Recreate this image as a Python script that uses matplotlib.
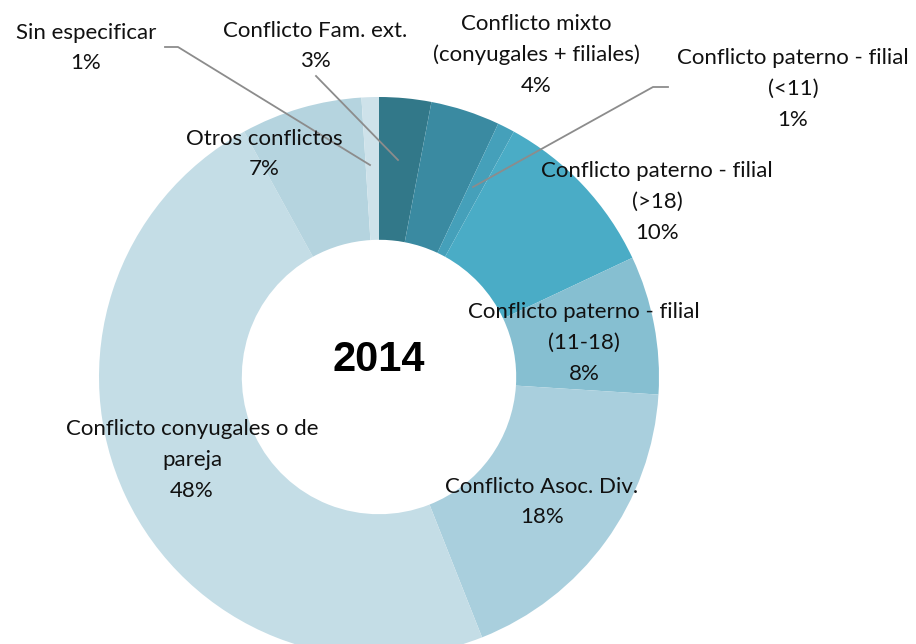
import matplotlib.pyplot as plt

plt.rcParams['font.family'] = ['Lato', 'DejaVu Sans']

etiquetas = ['Conflicto Fam. ext.',
             'Conflicto mixto\n(conyugales + filiales)',
             'Conflicto paterno - filial\n(<11)',
             'Conflicto paterno - filial\n(>18)',
             'Conflicto paterno - filial\n(11-18)',
             'Conflicto Asoc. Div.',
             'Conflicto conyugales o de\npareja',
             'Otros conflictos',
             'Sin especificar']
valores = [3, 4, 1, 10, 8, 18, 48, 7, 1]
colores = ['#327889', '#3a8aa1', '#45a0ba', '#4aacc6', '#86bfd1',
           '#a9cfdd', '#c4dde6', '#b5d4df', '#cee2ea']

# posiciones de texto (pixeles, origen arriba-izquierda)
pos_texto = [(315, 46), (536, 55), (793, 89), (657, 202), (584, 343),
             (542, 502), (192, 460), (264, 154), (86, 48)]
# lineas guia: (punto texto, codo, punto en el anillo) o None
guias = [[(316, 76), (398, 160)],
         None,
         [(668, 87), (653, 87), (473, 187)],
         None, None, None, None, None,
         [(165, 47), (178, 47), (370, 165)]]

W, H = 916, 644
fig = plt.figure(figsize=(W / 100, H / 100), dpi=100)
ax = fig.add_axes([0, 0, 1, 1])

cx, cy, r = 379, H - 377, 280
ax.pie(valores, colors=colores, startangle=90, counterclock=False,
       center=(cx, cy), radius=r, frame=True,
       wedgeprops=dict(width=r * 0.51, linewidth=0))
ax.set_xlim(0, W)
ax.set_ylim(0, H)
ax.set_aspect('equal')
ax.axis('off')

for lab, v, (x, y), g in zip(etiquetas, valores, pos_texto, guias):
    ax.text(x, H - y, f'{lab}\n{v}%', ha='center', va='center',
            fontsize=16, color='#111111', linespacing=1.68)
    if g:
        ax.plot([p[0] for p in g], [H - p[1] for p in g],
                color='#8c8c8c', lw=1.3)

ax.text(cx, H - 360, '2014', ha='center', va='center',
        fontsize=30, fontweight='bold', family='Liberation Sans')

fig.savefig('out.png', dpi=100)
